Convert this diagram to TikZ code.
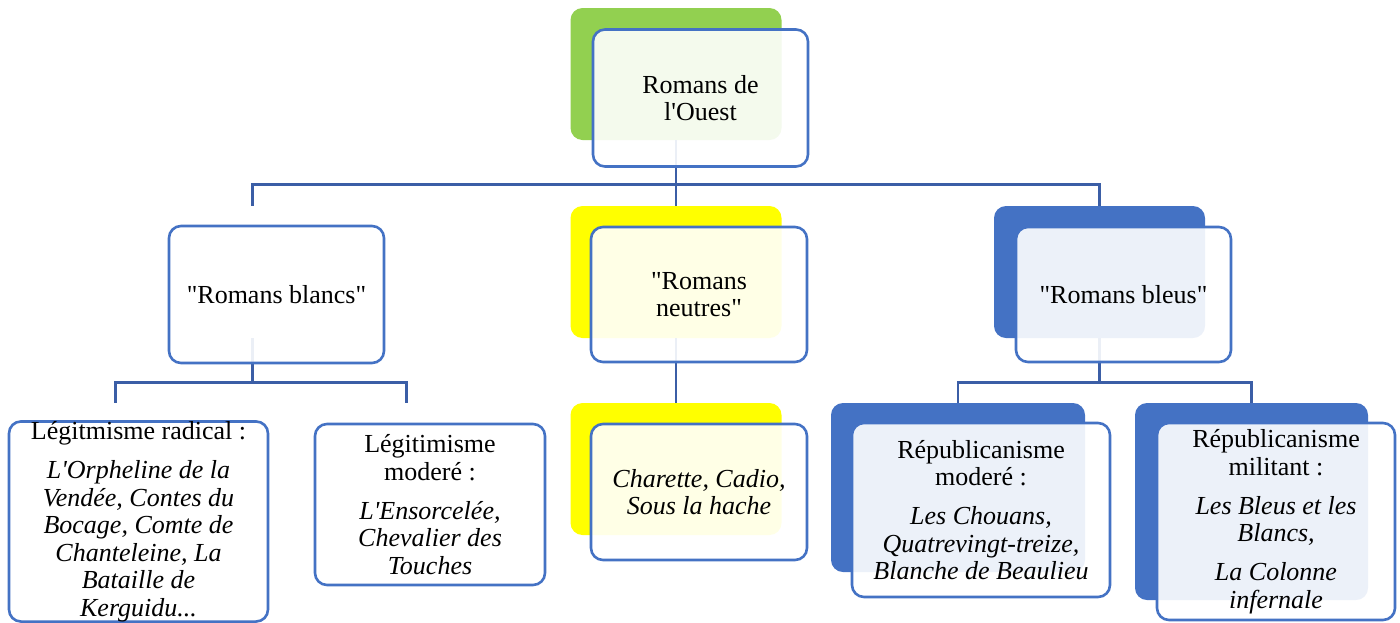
\documentclass[tikz,border=0pt]{standalone}
\usepackage{fontspec}
\setmainfont{Liberation Serif}
\usepackage{xcolor}
\definecolor{vert}{HTML}{92D050}
\definecolor{jaune}{HTML}{FFFF00}
\definecolor{bleu}{HTML}{4472C4}
\definecolor{trait}{RGB}{59,94,166}
\newcommand{\ap}{\textquotesingle}
\newcommand{\gq}{\textquotedbl}

\begin{document}
\begin{tikzpicture}[x=0.5pt,y=-0.5pt,
  backbox/.style={rounded corners=6pt,fill=#1,inner sep=0pt},
  frontbox/.style={draw=bleu,line width=1.3pt,rounded corners=6pt,fill=white,
    fill opacity=0.9,text opacity=1,inner sep=0pt,align=center,
    font=\fontsize{13pt}{13.75pt}\selectfont},
  conn/.style={draw=trait,line width=1.2pt}]
  \clip (0,0) rectangle (1400,622);
  % boites du fond
  \node[backbox=vert,minimum width=105.5pt,minimum height=66pt] (ouestb) at (676,74) {};
  \node[backbox=white,minimum width=105.5pt,minimum height=66pt] (blancsb) at (252.5,272) {};
  \node[backbox=jaune,minimum width=105.5pt,minimum height=66pt] (neutresb) at (676,272) {};
  \node[backbox=bleu,minimum width=105.5pt,minimum height=66pt] (bleusb) at (1099.5,272) {};
  \node[backbox=white,minimum width=128.5pt,minimum height=97.5pt] (radicalb) at (115.5,500.5) {};
  \node[backbox=white,minimum width=113.5pt,minimum height=80pt] (legmodb) at (406.5,483) {};
  \node[backbox=jaune,minimum width=105.5pt,minimum height=66pt] (charetteb) at (676,469) {};
  \node[backbox=bleu,minimum width=127pt,minimum height=84.5pt] (repmodb) at (958,487.5) {};
  \node[backbox=bleu,minimum width=116.5pt,minimum height=98.5pt] (repmilb) at (1251.5,501.5) {};
  % liens
  \draw[conn] (ouestb.south) -- ++(0,44) -| (blancsb.north);
  \draw[conn] (ouestb.south) -- ++(0,44) -| (bleusb.north);
  \draw[conn] (ouestb.south) -- (neutresb.north);
  \draw[conn] (blancsb.south) -- ++(0,44) -| (radicalb.north);
  \draw[conn] (blancsb.south) -- ++(0,44) -| (legmodb.north);
  \draw[conn] (neutresb.south) -- (charetteb.north);
  \draw[conn] (bleusb.south) -- ++(0,44) -| (repmodb.north);
  \draw[conn] (bleusb.south) -- ++(0,44) -| (repmilb.north);
  % boites du devant
  \node[frontbox,minimum width=107.5pt,minimum height=68.5pt] (ouest) at (700.5,98)
    {Romans de\\ l\ap Ouest};
  \node[frontbox,minimum width=107.5pt,minimum height=68.5pt] (blancs) at (276.5,294.5)
    {\gq Romans blancs\gq};
  \node[frontbox,minimum width=108pt,minimum height=67.5pt] (neutres) at (699,294.5)
    {\gq Romans\\ neutres\gq};
  \node[frontbox,minimum width=107.5pt,minimum height=67.5pt] (bleus) at (1123.5,294.5)
    {\gq Romans bleus\gq};
  \node[frontbox,minimum width=129.5pt,minimum height=98.5pt] (radical) at (138.5,521.5)
    {Légitmisme radical :\\[5.75pt]
     \textit{L\ap Orpheline de la}\\ \textit{Vendée, Contes du}\\ \textit{Bocage, Comte de}\\
     \textit{Chanteleine, La}\\ \textit{Bataille de}\\ \textit{Kerguidu...}};
  \node[frontbox,minimum width=115pt,minimum height=80.5pt] (legmod) at (430,504.5)
    {Légitimisme\\ moderé :\\[5.75pt]
     \textit{L\ap Ensorcelée,}\\ \textit{Chevalier des}\\ \textit{Touches}};
  \node[frontbox,minimum width=108pt,minimum height=68pt] (charette) at (699,492)
    {\textit{Charette, Cadio,}\\ \textit{Sous la hache}};
  \node[frontbox,minimum width=129pt,minimum height=87pt] (repmod) at (981,510)
    {Républicanisme\\ moderé :\\[5.75pt]
     \textit{Les Chouans,}\\ \textit{Quatrevingt-treize,}\\ \textit{Blanche de Beaulieu}};
  \node[frontbox,minimum width=119pt,minimum height=98.5pt] (repmil) at (1276,521.5)
    {Républicanisme\\ militant :\\[5.75pt]
     \textit{Les Bleus et les}\\ \textit{Blancs,}\\[5.75pt]
     \textit{La Colonne}\\ \textit{infernale}};
\end{tikzpicture}
\end{document}
